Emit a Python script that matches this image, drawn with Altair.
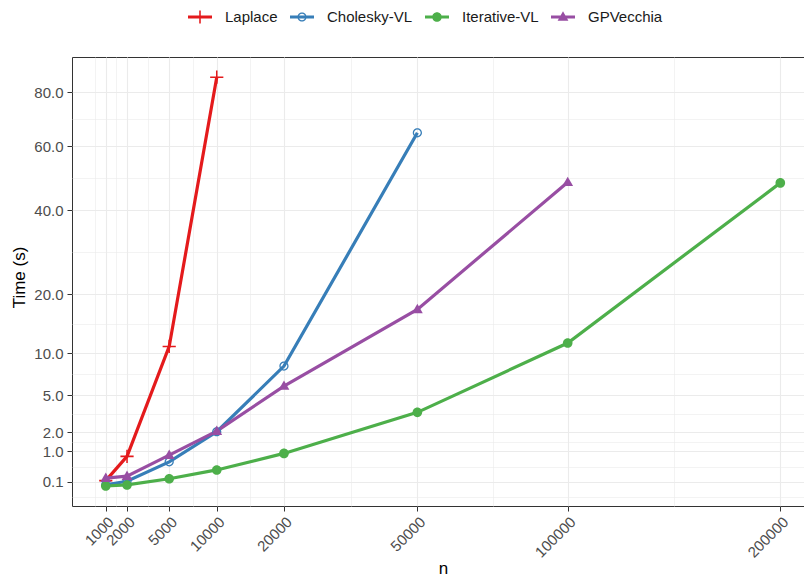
import math
import altair as alt
import pandas as pd

# ---------------- data ----------------
methods = ["Laplace", "Cholesky-VL", "Iterative-VL", "GPVecchia"]
colors = ["#E41A1C", "#377EB8", "#4DAF4A", "#984EA3"]

laplace_n = [1000, 2000, 5000, 10000]
laplace_time = [0.12, 0.78, 11.0, 86.0]

cholesky_n = [1000, 2000, 5000, 10000, 20000, 50000]
cholesky_time = [0.065, 0.11, 0.58, 2.04, 8.3, 64.7]

iterative_n = [1000, 2000, 5000, 10000, 20000, 50000, 100000, 200000]
iterative_time = [0.052, 0.063, 0.15, 0.34, 0.90, 3.45, 11.5, 48.1]

gpvecchia_n = [1000, 2000, 5000, 10000, 20000, 50000, 100000]
gpvecchia_time = [0.16, 0.20, 0.83, 2.08, 5.95, 17.1, 48.3]

x_ticks = [1000, 2000, 5000, 10000, 20000, 50000, 100000, 200000]
y_ticks = [0.1, 1, 2, 5, 10, 20, 40, 60, 80]

rows = []
for m, ns, ts in [
    ("Laplace", laplace_n, laplace_time),
    ("Cholesky-VL", cholesky_n, cholesky_time),
    ("Iterative-VL", iterative_n, iterative_time),
    ("GPVecchia", gpvecchia_n, gpvecchia_time),
]:
    for n, t in zip(ns, ts):
        rows.append({"method": m, "n": n, "time": t})
df = pd.DataFrame(rows)


# minor gridlines: midpoints of the major breaks in sqrt space (plus one below)
def sqrt_minors(ticks):
    s = [math.sqrt(t) for t in ticks]
    mids = [(a + b) / 2 for a, b in zip(s, s[1:])]
    ext = s[0] - (s[1] - s[0])
    mids = [(ext + s[0]) / 2] + mids
    return [math.copysign(v * v, v) for v in mids]


x_minor = sqrt_minors(x_ticks)
y_minor = sqrt_minors(y_ticks)


# ---------------- glyph paths (styles) ----------------
def rect(x0, y0, x1, y1):
    return f"M{x0},{y0}H{x1}V{y1}H{x0}Z"


def disk(r, cw=True):
    s = 1 if cw else 0
    return f"M{r},0A{r},{r},0,1,{s},{-r},0A{r},{r},0,1,{s},{r},0Z"


def cross(L, t):
    return rect(-L, -t, L, t) + rect(-t, -L, t, L)


def tri(w, top, bot):
    return f"M0,{-top}L{w},{bot}L{-w},{bot}Z"


# plot points: size 64 -> 4 px per unit
point_paths = [
    cross(1.65, 0.19),
    disk(1.15) + disk(0.83, cw=False),
    disk(1.2),
    tri(1.35, 1.4, 0.95),
]
# legend keys: size 576 -> 12 px per unit, with a line segment through
line_seg = rect(-1, -0.135, 1, 0.135)
legend_paths = [
    line_seg + cross(0.55, 0.065),
    line_seg + disk(0.383) + disk(0.276, cw=False),
    line_seg + disk(0.4),
    line_seg + tri(0.45, 0.47, 0.32),
]

x_scale = alt.Scale(type="sqrt", domain=[117, 219000], nice=False, zero=False)
y_scale = alt.Scale(type="sqrt", domain=[-0.0462, 94.5], nice=False, zero=False)
color_scale = alt.Scale(domain=methods, range=colors)

grid_col = "#ebebeb"

x_major_axis = alt.Axis(
    values=x_ticks, format="d", orient="bottom",
    labelAngle=315, labelAlign="right", labelBaseline="top", labelFlush=False,
    labelOverlap=False, labelBound=False,
    labelFontSize=15, labelColor="#4d4d4d", labelPadding=3,
    tickColor="#333333", tickSize=5, tickWidth=1, domain=False,
    grid=True, gridColor=grid_col, gridWidth=1.1,
    title="n", titleFontSize=17, titleFontWeight="normal", titleColor="black",
    titleY=67, titleBaseline="alphabetic",
)
y_major_axis = alt.Axis(
    values=y_ticks, format=".1f", orient="left", labelFlush=False,
    labelOverlap=False,
    labelFontSize=15, labelColor="#4d4d4d", labelPadding=4,
    tickColor="#333333", tickSize=5, tickWidth=1, domain=False,
    grid=True, gridColor=grid_col, gridWidth=1.1,
    title="Time (s)", titleFontSize=17, titleFontWeight="normal", titleColor="black",
    titleX=-48, titleY=220, titleBaseline="alphabetic",
)
x_minor_axis = alt.Axis(
    values=x_minor, orient="bottom", labels=False, ticks=False, domain=False,
    grid=True, gridColor=grid_col, gridWidth=0.6, title=None,
)
y_minor_axis = alt.Axis(
    values=y_minor, orient="left", labels=False, ticks=False, domain=False,
    grid=True, gridColor=grid_col, gridWidth=0.6, title=None,
)

base = alt.Chart(df)

lines = base.mark_line(strokeWidth=3.2).encode(
    x=alt.X("n:Q", scale=x_scale, axis=x_major_axis),
    y=alt.Y("time:Q", scale=y_scale, axis=y_major_axis),
    color=alt.Color("method:N", scale=color_scale, legend=None, sort=methods),
)

points = base.mark_point(filled=True, opacity=1, size=64, strokeWidth=0).encode(
    x=alt.X("n:Q", scale=x_scale, axis=x_minor_axis),
    y=alt.Y("time:Q", scale=y_scale, axis=y_minor_axis),
    color=alt.Color("method:N", scale=color_scale, legend=None),
    shape=alt.Shape("method:N", scale=alt.Scale(domain=methods, range=point_paths), legend=None),
)

leg = dict(
    title=None, orient="none", legendX=116, legendY=-52, direction="horizontal",
    labelFontSize=15, labelColor="#1a1a1a", labelOffset=13, columnPadding=12,
    symbolSize=576, symbolStrokeWidth=0, symbolOpacity=1, padding=0,
)
legend_layer = (
    base.transform_filter("false")
    .mark_point(filled=True, opacity=1, size=576, strokeWidth=0)
    .encode(
        fill=alt.Fill("method:N", scale=alt.Scale(domain=methods, range=colors),
                      legend=alt.Legend(**leg)),
        shape=alt.Shape("method:N", scale=alt.Scale(domain=methods, range=legend_paths),
                        legend=alt.Legend(**leg)),
    )
)

chart = (
    alt.layer(lines, points, legend_layer)
    .resolve_scale(shape="independent", fill="independent")
    .resolve_legend(shape="independent", fill="independent")
    .resolve_axis(x="independent", y="independent")
    .properties(
        width=742, height=449,
        autosize=alt.AutoSizeParams(type="none"),
        padding={"left": 64, "top": 49, "right": -10, "bottom": 72},
    )
    .configure(font="Liberation Sans")
    .configure_view(stroke="#333333", strokeWidth=1)
)

chart.save("out.html", embed_options={"renderer": "svg", "actions": False})
